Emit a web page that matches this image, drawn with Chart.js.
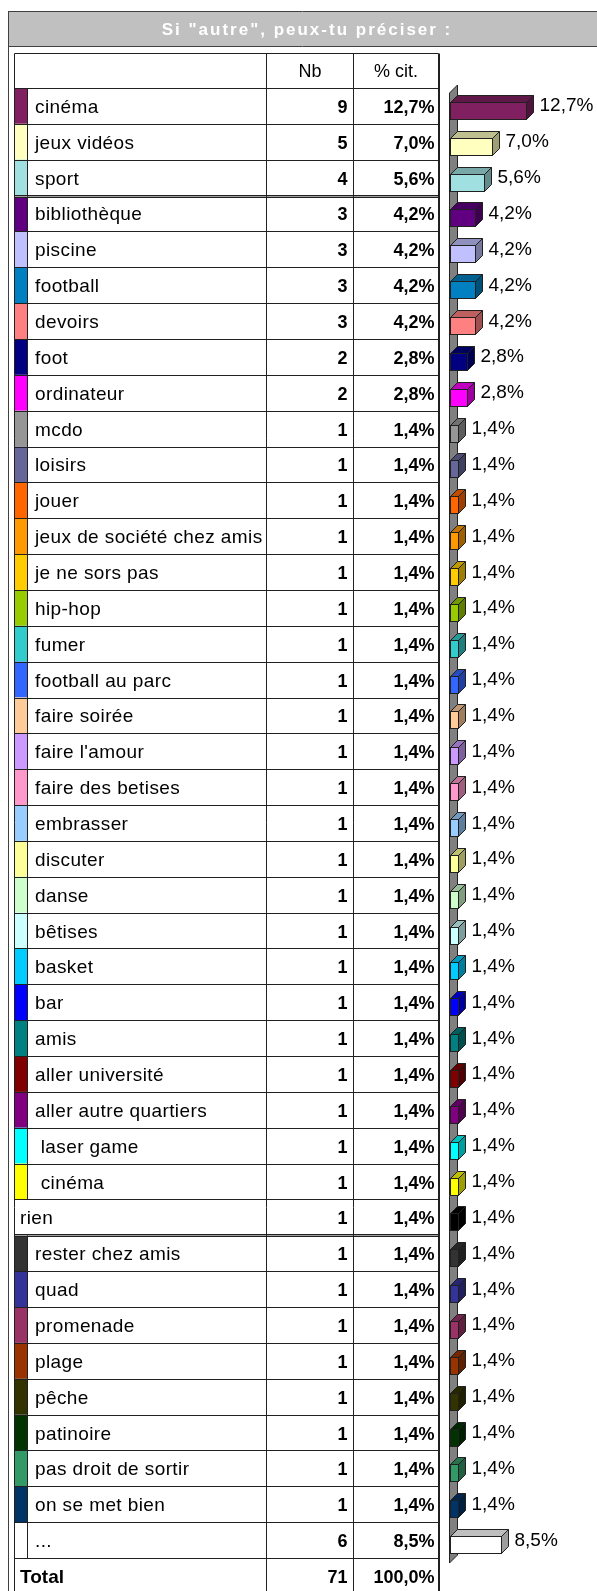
<!DOCTYPE html>
<html>
<head>
<meta charset="utf-8">
<script src="https://cdn.jsdelivr.net/npm/chart.js@4/dist/chart.umd.min.js"></script>
<style>
  html, body { margin: 0; background: #fff; }
  canvas { display: block; }
</style>
</head>
<body>
<canvas id="graphe" width="597" height="1591"></canvas>
<script>
const titre = 'Si "autre", peux-tu préciser :';
const entetes = ['Nb', '% cit.'];
const modalites = [
  'cinéma', 'jeux vidéos', 'sport', 'bibliothèque', 'piscine', 'football', 'devoirs', 'foot',
  'ordinateur', 'mcdo', 'loisirs', 'jouer', 'jeux de société chez amis', 'je ne sors pas',
  'hip-hop', 'fumer', 'football au parc', 'faire soirée', "faire l'amour", 'faire des betises',
  'embrasser', 'discuter', 'danse', 'bêtises', 'basket', 'bar', 'amis', 'aller université',
  'aller autre quartiers', ' laser game', ' cinéma', 'rien', 'rester chez amis', 'quad',
  'promenade', 'plage', 'pêche', 'patinoire', 'pas droit de sortir', 'on se met bien', '...'
];
const effectifs = [
  9, 5, 4, 3, 3, 3, 3, 2, 2, 1, 1, 1, 1, 1, 1, 1, 1, 1, 1, 1,
  1, 1, 1, 1, 1, 1, 1, 1, 1, 1, 1, 1, 1, 1, 1, 1, 1, 1, 1, 1, 6
];
const pourcentages = [
  12.7, 7.0, 5.6, 4.2, 4.2, 4.2, 4.2, 2.8, 2.8, 1.4, 1.4, 1.4, 1.4, 1.4, 1.4, 1.4, 1.4, 1.4, 1.4, 1.4,
  1.4, 1.4, 1.4, 1.4, 1.4, 1.4, 1.4, 1.4, 1.4, 1.4, 1.4, 1.4, 1.4, 1.4, 1.4, 1.4, 1.4, 1.4, 1.4, 1.4, 8.5
];
const couleurs = [
  '#802060', '#FFFFC0', '#A0E0E0', '#600080', '#C0C0FF', '#0080C0', '#FF8080', '#000080',
  '#FF00FF', '#969696', '#666699', '#FF6600', '#FF9900', '#FFCC00', '#99CC00', '#33CCCC',
  '#3366FF', '#FFCC99', '#CC99FF', '#FF99CC', '#99CCFF', '#FFFF99', '#CCFFCC', '#CCFFFF',
  '#00CCFF', '#0000FF', '#008080', '#800000', '#800080', '#00FFFF', '#FFFF00', '#000000',
  '#333333', '#333399', '#993366', '#993300', '#333300', '#003300', '#339966', '#003366', '#FFFFFF'
];
const sansPastille = [31];          // "rien" n'a pas de pastille
const doublesTraits = [2, 31];      // double trait sous ces lignes
const total = { libelle: 'Total', nb: 71, pct: 100.0 };

const police = "'Liberation Sans', Arial, sans-serif";
const fmt = v => v.toFixed(1).replace('.', ',') + '%';

function assombrir(hex, f) {
  const n = parseInt(hex.slice(1), 16);
  const r = Math.round(((n >> 16) & 255) * f);
  const g = Math.round(((n >> 8) & 255) * f);
  const b = Math.round((n & 255) * f);
  return `rgb(${r},${g},${b})`;
}

function ligne(ctx, x1, y1, x2, y2) {
  ctx.beginPath();
  ctx.moveTo(x1, y1);
  ctx.lineTo(x2, y2);
  ctx.stroke();
}

// tableau de gauche + bandeau de titre
const tableau = {
  id: 'tableau',
  beforeDatasetsDraw(chart) {
    const ctx = chart.ctx;
    const ys = chart.scales.y;
    const { top, bottom } = chart.chartArea;
    const h = (bottom - top) / modalites.length;
    const xL = 14.5, xSw = 27.5, xNb = 266.5, xPct = 353.5, xR = 438.5;

    ctx.save();
    // cadre + bandeau
    ctx.fillStyle = '#C0C0C0';
    ctx.fillRect(9, 12, 588, 34);
    ctx.strokeStyle = '#404040';
    ctx.lineWidth = 1;
    ligne(ctx, 8.5, 11, 8.5, 1591);
    ligne(ctx, 8, 11.5, 597, 11.5);
    ligne(ctx, 8, 46.5, 597, 46.5);

    ctx.fillStyle = '#fff';
    ctx.font = 'bold 17px ' + police;
    ctx.letterSpacing = '2px';
    ctx.textAlign = 'center';
    ctx.textBaseline = 'alphabetic';
    ctx.fillText(titre, 307, 35);
    ctx.letterSpacing = '0px';

    const hautTab = Math.round(top - 35) + 0.5;
    const basTab = bottom + h;

    // pastilles
    modalites.forEach((m, i) => {
      if (sansPastille.includes(i)) return;
      const yc = ys.getPixelForValue(i);
      ctx.fillStyle = couleurs[i];
      ctx.fillRect(15, yc - h / 2, 12, h);
    });

    ctx.strokeStyle = '#202020';
    // lignes horizontales
    ligne(ctx, xL, hautTab, xR, hautTab);
    for (let i = 0; i <= modalites.length; i++) {
      const y = Math.round(top + i * h) + 0.5;
      if (doublesTraits.includes(i - 1)) {
        ctx.strokeStyle = '#202020';
        ligne(ctx, xL, y - 1, xR, y - 1);
        ligne(ctx, xL, y + 1, xR, y + 1);
        ctx.strokeStyle = '#A0A0A0';
        ligne(ctx, xL, y, xR, y);
        ctx.strokeStyle = '#202020';
      } else {
        ligne(ctx, xL, y, xR, y);
      }
    }
    // lignes verticales
    ligne(ctx, xL, hautTab, xL, basTab);
    ligne(ctx, xNb, hautTab, xNb, basTab);
    ligne(ctx, xPct, hautTab, xPct, basTab);
    ctx.lineWidth = 2;
    ligne(ctx, xR + 0.5, hautTab, xR + 0.5, basTab);
    ctx.lineWidth = 1;
    modalites.forEach((m, i) => {
      if (sansPastille.includes(i)) return;
      const yc = ys.getPixelForValue(i);
      ligne(ctx, xSw, Math.round(yc - h / 2) + 0.5, xSw, Math.round(yc + h / 2) + 0.5);
    });

    // textes
    ctx.fillStyle = '#000';
    ctx.font = '18px ' + police;
    ctx.textAlign = 'center';
    const yEnt = top - 17.5 + 6.5;
    ctx.fillText(entetes[0], (xNb + xPct) / 2, yEnt);
    ctx.fillText(entetes[1], (xPct + xR) / 2, yEnt);

    modalites.forEach((m, i) => {
      const yc = ys.getPixelForValue(i) + 7;
      ctx.font = '19px ' + police;
      ctx.letterSpacing = '0.4px';
      ctx.textAlign = 'left';
      ctx.fillText(m, sansPastille.includes(i) ? 20 : 35, yc);
      ctx.letterSpacing = '0px';
      ctx.font = 'bold 18px ' + police;
      ctx.textAlign = 'right';
      ctx.fillText(String(effectifs[i]), xPct - 6, yc);
      ctx.fillText(fmt(pourcentages[i]), xR - 4, yc);
    });

    const yT = bottom + h / 2 + 7;
    ctx.font = 'bold 19px ' + police;
    ctx.textAlign = 'left';
    ctx.fillText(total.libelle, 20, yT);
    ctx.font = 'bold 18px ' + police;
    ctx.textAlign = 'right';
    ctx.fillText(String(total.nb), xPct - 6, yT);
    ctx.fillText(fmt(total.pct), xR - 4, yT);
    ctx.restore();
  }
};

// barres en relief + mur gris
const barres3d = {
  id: 'barres3d',
  afterDatasetsDraw(chart) {
    const ctx = chart.ctx;
    const x0 = chart.scales.x.getPixelForValue(0);
    const { top, bottom } = chart.chartArea;
    const d = 7;
    ctx.save();
    ctx.lineWidth = 1;
    ctx.strokeStyle = '#202020';

    // mur
    const xm = Math.round(x0) - 0.5;
    ctx.fillStyle = '#808080';
    ctx.beginPath();
    ctx.moveTo(xm, top + 5);
    ctx.lineTo(xm + d + 1, top + 5 - d - 1);
    ctx.lineTo(xm + d + 1, bottom + 5 - d - 1);
    ctx.lineTo(xm, bottom + 5);
    ctx.closePath();
    ctx.fill();
    ctx.stroke();

    const meta = chart.getDatasetMeta(0);
    meta.data.forEach((el, i) => {
      const c = couleurs[i];
      const xa = Math.round(x0) + 0.5;
      const xb = Math.round(el.x) + 0.5;
      const yt = Math.round(el.y - 4) + 0.5;
      const yb = yt + 17;

      ctx.fillStyle = assombrir(c, 0.75);
      ctx.beginPath();
      ctx.moveTo(xa, yt);
      ctx.lineTo(xa + d, yt - d);
      ctx.lineTo(xb + d, yt - d);
      ctx.lineTo(xb, yt);
      ctx.closePath();
      ctx.fill();
      ctx.stroke();

      ctx.fillStyle = assombrir(c, 0.62);
      ctx.beginPath();
      ctx.moveTo(xb, yt);
      ctx.lineTo(xb + d, yt - d);
      ctx.lineTo(xb + d, yb - d);
      ctx.lineTo(xb, yb);
      ctx.closePath();
      ctx.fill();
      ctx.stroke();

      ctx.fillStyle = c;
      ctx.fillRect(xa, yt, xb - xa, yb - yt);
      ctx.strokeRect(xa, yt, xb - xa, yb - yt);

      ctx.fillStyle = '#000';
      ctx.font = '19px ' + police;
      ctx.textAlign = 'left';
      ctx.textBaseline = 'alphabetic';
      ctx.fillText(fmt(pourcentages[i]), xb + d + 6, el.y + 5.5);
    });
    ctx.restore();
  }
};

new Chart(document.getElementById('graphe'), {
  type: 'bar',
  data: {
    labels: modalites,
    datasets: [{
      data: pourcentages,
      backgroundColor: 'rgba(0,0,0,0)',
      borderWidth: 0,
      barThickness: 17
    }]
  },
  options: {
    indexAxis: 'y',
    responsive: false,
    animation: false,
    devicePixelRatio: 1,
    layout: { padding: { left: 450, right: 7, top: 88, bottom: 33 } },
    scales: {
      x: { display: false, min: 0, max: 140 / 6 },
      y: { display: false }
    },
    plugins: {
      legend: { display: false },
      tooltip: { enabled: false }
    }
  },
  plugins: [tableau, barres3d]
});
</script>
</body>
</html>
